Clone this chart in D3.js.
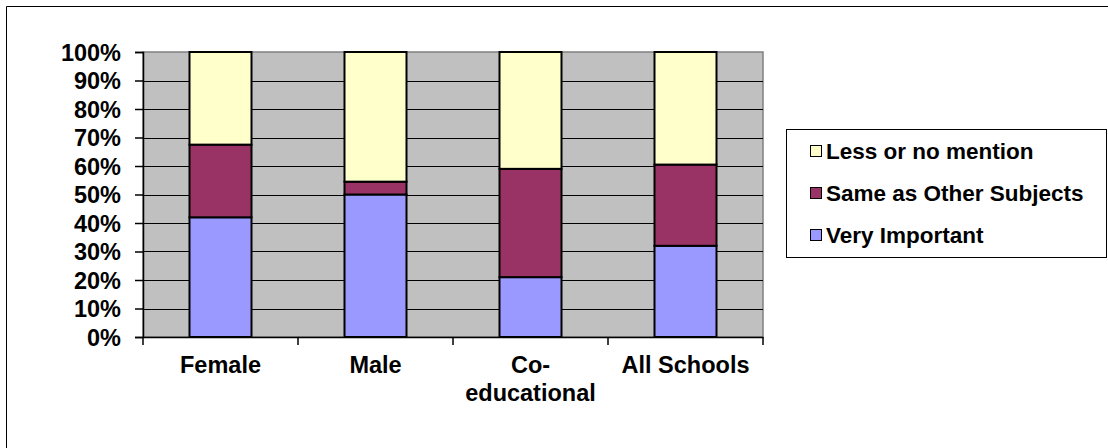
<!DOCTYPE html>
<html><head><meta charset="utf-8">
<script src="https://cdn.jsdelivr.net/npm/d3@7"></script>
<style>
html,body{margin:0;padding:0;background:#fff;}
svg{display:block;}
text{font-family:"Liberation Sans",Arial,sans-serif;font-weight:bold;fill:#000;}
</style></head>
<body>
<svg id="chart" width="1108" height="448"></svg>
<script>
const categories = [["Female"], ["Male"], ["Co-", "educational"], ["All Schools"]];
const categoryKeys = ["Female", "Male", "Co-educational", "All Schools"];
const seriesNames = ["Very Important", "Same as Other Subjects", "Less or no mention"];
const veryImportant = [42, 50, 21, 32];
const sameAsOther = [25.5, 4.5, 38, 28.5];
const lessOrNo = [32.5, 45.5, 41, 39.5];
const colors = ["#9999FF", "#993366", "#FFFFCC"];
const yTicks = [0,10,20,30,40,50,60,70,80,90,100];

const svg = d3.select("#chart");
// outer frame (top and left visible)
svg.append("line").attr("x1",6.5).attr("y1",6.5).attr("x2",1108).attr("y2",6.5).attr("stroke","#000");
svg.append("line").attr("x1",6.5).attr("y1",6.5).attr("x2",6.5).attr("y2",448).attr("stroke","#000");

const L = 143, R = 763, T = 52, B = 337;
const x = d3.scaleBand().domain(categoryKeys).range([L, R]).paddingInner(0).paddingOuter(0);
const y = d3.scaleLinear().domain([0,100]).range([B, T]);

svg.append("rect").attr("x",L).attr("y",T).attr("width",R-L).attr("height",B-T)
  .attr("fill","#C0C0C0").attr("stroke","#808080").attr("stroke-width",1.5);

svg.append("g").selectAll("line").data(yTicks.filter(d=>d>0 && d<100)).join("line")
  .attr("x1",L).attr("x2",R).attr("y1",d=>Math.round(y(d))+0.5).attr("y2",d=>Math.round(y(d))+0.5)
  .attr("stroke","#000").attr("stroke-width",1);

const data = categoryKeys.map((k,i)=>({key:k, "Very Important":veryImportant[i], "Same as Other Subjects":sameAsOther[i], "Less or no mention":lessOrNo[i]}));
const stack = d3.stack().keys(seriesNames)(data);
const bw = 62;
svg.append("g").selectAll("g").data(stack).join("g").attr("fill",(d,i)=>colors[i])
  .selectAll("rect").data(d=>d).join("rect")
  .attr("x",d=>x(d.data.key)+x.bandwidth()/2-bw/2)
  .attr("width",bw)
  .attr("y",d=>y(d[1]))
  .attr("height",d=>y(d[0])-y(d[1]))
  .attr("stroke","#000").attr("stroke-width",2);

// y axis
const ya = svg.append("g").attr("transform",`translate(${L},0)`)
  .call(d3.axisLeft(y).tickValues(yTicks).tickFormat(d=>d+"%").tickSize(8).tickPadding(14));
ya.select(".domain").attr("stroke","#000").attr("stroke-width",1.5);
ya.selectAll(".tick line").attr("stroke","#000").attr("stroke-width",1.5);
ya.selectAll(".tick text").attr("font-size","23.5px").attr("font-family","Liberation Sans, Arial, sans-serif").attr("font-weight","bold").attr("fill","#000").attr("dy","0.36em");

// x axis
const xa = svg.append("g").attr("transform",`translate(0,${B})`)
  .call(d3.axisBottom(x).tickSize(0).tickFormat(""));
xa.select(".domain").attr("stroke","#000").attr("stroke-width",1.5);
const boundaries = categoryKeys.map(k=>x(k)).concat([R]);
svg.append("g").selectAll("line").data(boundaries).join("line")
  .attr("x1",d=>d).attr("x2",d=>d).attr("y1",B).attr("y2",B+8).attr("stroke","#000").attr("stroke-width",1.5);
svg.append("g").selectAll("text").data(categoryKeys).join("text")
  .attr("x",d=>x(d)+x.bandwidth()/2).attr("y",373).attr("text-anchor","middle")
  .attr("font-size","23.5px")
  .each(function(d,i){
    const t = d3.select(this);
    categories[i].forEach((line,j)=>{
      t.append("tspan").attr("x",x(d)+x.bandwidth()/2).attr("dy",j===0?0:28).text(line);
    });
  });

// legend
const lg = svg.append("g");
lg.append("rect").attr("x",786.5).attr("y",129.5).attr("width",320).attr("height",128)
  .attr("fill","#fff").attr("stroke","#000").attr("stroke-width",1);
const legendOrder = [2,1,0];
legendOrder.forEach((si,j)=>{
  const cy = 151 + j*42;
  lg.append("rect").attr("x",810.5).attr("y",cy-5.5).attr("width",11).attr("height",11)
    .attr("fill",colors[si]).attr("stroke","#000").attr("stroke-width",1);
  lg.append("text").attr("x",826).attr("y",cy).attr("dy","0.36em").attr("font-size","22.5px").text(seriesNames[si]);
});
</script>
</body></html>
